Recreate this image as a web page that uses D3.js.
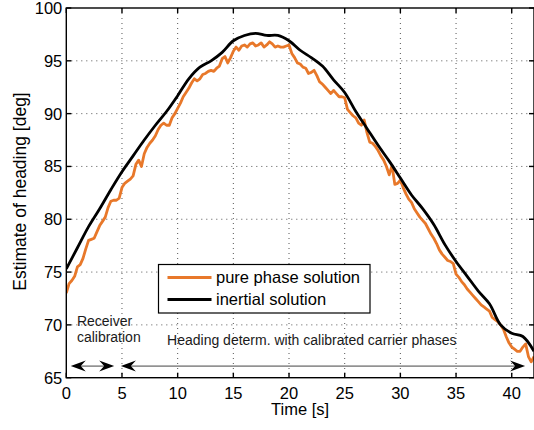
<!DOCTYPE html>
<html>
<head>
<meta charset="utf-8">
<script src="https://cdn.jsdelivr.net/npm/d3@7"></script>
<style>
  body { margin: 0; background: #fff; }
  svg { display: block; font-family: "Liberation Sans", Arial, Helvetica, sans-serif; }
</style>
</head>
<body>
<svg id="chart" width="534" height="430"></svg>
<script>
// ---- data ----
const xTicks = [0, 5, 10, 15, 20, 25, 30, 35, 40];
const yTicks = [65, 70, 75, 80, 85, 90, 95, 100];

// inertial solution, one sample per second from t = 0
const inertialStep = 1;
const inertial = [
    75.3, 77.3, 79.3, 81.0, 82.8, 84.5, 86.0, 87.5, 88.9, 90.2,
    91.7, 93.3, 94.4, 95.0, 95.8, 96.9, 97.4, 97.6, 97.4, 97.4,
    96.9, 96.0, 95.3, 94.5, 93.2, 92.0, 90.2, 88.6, 87.0, 85.5,
    83.9, 82.3, 81.0, 79.5, 77.6, 76.0, 74.6, 73.2, 72.0, 70.0,
    69.2, 68.9, 67.5
];

// pure phase solution, one sample every 0.25 s from t = 0
const phaseStep = 0.25;
const purePhase = [
    73.0, 73.9, 74.2, 74.6, 75.5, 75.7, 76.3, 77.2, 78.0, 78.1,
    78.2, 78.8, 79.4, 79.8, 80.2, 81.1, 81.7, 81.8, 81.8, 82.0,
    83.0, 83.4, 83.6, 83.8, 84.1, 85.2, 85.6, 85.0, 86.2, 86.8,
    87.2, 87.5, 87.9, 88.5, 88.9, 89.1, 88.9, 88.9, 89.6, 90.0,
    90.5, 91.0, 91.6, 92.0, 92.4, 92.9, 93.3, 93.1, 93.3, 93.7,
    93.8, 94.0, 94.1, 94.0, 94.3, 94.5, 95.2, 95.4, 94.8, 95.3,
    95.9, 96.3, 96.0, 96.4, 96.5, 96.3, 96.6, 96.7, 96.4, 96.5,
    96.7, 96.3, 96.5, 96.8, 96.6, 96.3, 96.4, 96.3, 96.3, 96.4,
    96.5, 95.7, 95.3, 94.8, 94.7, 94.4, 94.3, 93.8, 93.9, 94.1,
    93.6, 93.0, 92.8, 92.5, 92.2, 91.9, 92.2, 91.9, 91.6, 91.6,
    91.5, 90.4, 90.1, 89.8, 89.6, 89.1, 88.9, 89.4, 88.2, 87.3,
    87.2, 86.9, 86.5, 86.0, 85.6, 85.0, 84.2, 85.1, 83.3, 83.4,
    83.7, 83.0, 82.4, 81.9, 81.6, 81.0, 80.6, 80.2, 79.9, 79.6,
    79.1, 78.6, 78.2, 77.7, 77.1, 76.7, 76.4, 76.1, 76.0, 75.8,
    74.8, 74.5, 74.1, 73.8, 73.4, 73.1, 72.8, 72.5, 72.2, 71.9,
    71.7, 71.5, 71.3, 70.7, 70.5, 70.3, 70.0, 69.6, 68.9, 68.3,
    67.9, 67.7, 67.5, 67.5, 67.9, 68.2, 67.0, 66.5, 67.0
];

const seriesNames = ["pure phase solution", "inertial solution"];
const seriesColors = ["#e8782a", "#000000"];

// phase annotations: [start, end] in seconds, drawn as arrows
const phaseSpans = [[0.4, 4.3], [4.9, 41.2]];
const phaseLabels = [["Receiver", "calibration"], ["Heading determ. with calibrated carrier phases"]];

// ---- layout ----
const width = 534;
const height = 430;
const plot = { left: 66.3, right: 534, top: 8, bottom: 377.7 };

const svg = d3.select('#chart');

const x = d3.scaleLinear().domain([0, 42]).range([plot.left, plot.right]);
const y = d3.scaleLinear().domain([65, 100]).range([plot.bottom, plot.top]);

svg.append('defs').append('clipPath')
    .attr('id', 'plot-clip')
    .append('rect')
    .attr('x', plot.left)
    .attr('y', plot.top)
    .attr('width', plot.right - plot.left)
    .attr('height', plot.bottom - plot.top);

// dotted grid
const grid = svg.append('g')
    .attr('stroke', '#555')
    .attr('stroke-width', 1)
    .attr('stroke-dasharray', '1,4');

grid.selectAll('.vgrid')
    .data(xTicks.filter((d) => d > 0))
    .enter()
    .append('line')
    .attr('x1', (d) => x(d))
    .attr('x2', (d) => x(d))
    .attr('y1', plot.top)
    .attr('y2', plot.bottom);

grid.selectAll('.hgrid')
    .data(yTicks.filter((d) => d > 65 && d < 100))
    .enter()
    .append('line')
    .attr('x1', plot.left)
    .attr('x2', plot.right)
    .attr('y1', (d) => y(d))
    .attr('y2', (d) => y(d));

// curves
const phasePoints = purePhase.map((v, i) => [i * phaseStep, v]);
const inertialPoints = inertial.map((v, i) => [i * inertialStep, v]);

const lines = svg.append('g').attr('clip-path', 'url(#plot-clip)');

lines.append('path')
    .datum(phasePoints)
    .attr('fill', 'none')
    .attr('stroke', seriesColors[0])
    .attr('stroke-width', 2.8)
    .attr('stroke-linejoin', 'round')
    .attr('d', d3.line().x((d) => x(d[0])).y((d) => y(d[1])));

lines.append('path')
    .datum(inertialPoints)
    .attr('fill', 'none')
    .attr('stroke', seriesColors[1])
    .attr('stroke-width', 2.8)
    .attr('stroke-linejoin', 'round')
    .attr('d', d3.line().curve(d3.curveCatmullRom).x((d) => x(d[0])).y((d) => y(d[1])));

// axes: box frame with inward ticks
const tickLen = 5;
const axisG = svg.append('g')
    .attr('stroke', '#000')
    .attr('stroke-width', 1.4);

axisG.append('rect')
    .attr('x', plot.left)
    .attr('y', plot.top)
    .attr('width', plot.right - plot.left)
    .attr('height', plot.bottom - plot.top)
    .attr('fill', 'none');

xTicks.forEach((t) => {
    axisG.append('line').attr('x1', x(t)).attr('x2', x(t))
        .attr('y1', plot.bottom).attr('y2', plot.bottom - tickLen);
    axisG.append('line').attr('x1', x(t)).attr('x2', x(t))
        .attr('y1', plot.top).attr('y2', plot.top + tickLen);
});
yTicks.forEach((v) => {
    axisG.append('line').attr('x1', plot.left).attr('x2', plot.left + tickLen)
        .attr('y1', y(v)).attr('y2', y(v));
    axisG.append('line').attr('x1', plot.right - tickLen).attr('x2', plot.right)
        .attr('y1', y(v)).attr('y2', y(v));
});

const labels = svg.append('g')
    .attr('font-size', '16.5px')
    .attr('fill', '#000');

labels.selectAll('.xtick')
    .data(xTicks)
    .enter()
    .append('text')
    .attr('x', (d) => x(d))
    .attr('y', plot.bottom + 21)
    .attr('text-anchor', 'middle')
    .text((d) => d);

labels.selectAll('.ytick')
    .data(yTicks)
    .enter()
    .append('text')
    .attr('x', plot.left - 4)
    .attr('y', (d) => y(d))
    .attr('dy', '0.36em')
    .attr('text-anchor', 'end')
    .text((d) => d);

labels.append('text')
    .attr('x', (plot.left + plot.right) / 2)
    .attr('y', 415)
    .attr('text-anchor', 'middle')
    .text('Time [s]');

labels.append('text')
    .attr('transform', 'translate(26,191.5) rotate(-90)')
    .attr('text-anchor', 'middle')
    .attr('font-size', '17.5px')
    .text('Estimate of heading [deg]');

// legend
const legend = svg.append('g').attr('transform', 'translate(158.5,264.5)');
legend.append('rect')
    .attr('width', 211.5)
    .attr('height', 48.5)
    .attr('fill', '#fff')
    .attr('stroke', '#000')
    .attr('stroke-width', 1.2);

const legendRow = legend.selectAll('.row')
    .data(seriesNames)
    .enter()
    .append('g')
    .attr('transform', (d, i) => `translate(0,${13 + i * 22})`);

legendRow.append('line')
    .attr('x1', 9)
    .attr('x2', 53)
    .attr('stroke', (d, i) => seriesColors[i])
    .attr('stroke-width', 3);

legendRow.append('text')
    .attr('x', 57.5)
    .attr('dy', '0.36em')
    .attr('font-size', '16.5px')
    .text((d) => d);

// phase annotations
const arrowY = y(66.1);
const annot = svg.append('g');

const headPath = 'M0,0 L-15,-5.5 L-10,0 L-15,5.5 Z';

phaseSpans.forEach((span) => {
    const x0 = x(span[0]);
    const x1 = x(span[1]);
    annot.append('line')
        .attr('x1', x0 + 8)
        .attr('x2', x1 - 8)
        .attr('y1', arrowY)
        .attr('y2', arrowY)
        .attr('stroke', '#444')
        .attr('stroke-width', 1);
    annot.append('path')
        .attr('d', headPath)
        .attr('transform', `translate(${x1},${arrowY})`)
        .attr('fill', '#000');
    annot.append('path')
        .attr('d', headPath)
        .attr('transform', `translate(${x0},${arrowY}) rotate(180)`)
        .attr('fill', '#000');
});

const annotText = annot.append('g')
    .attr('font-size', '14px')
    .attr('fill', '#1a1a1a');

annotText.append('text')
    .attr('x', x(0.95))
    .attr('y', 325.5)
    .text(phaseLabels[0][0]);
annotText.append('text')
    .attr('x', x(0.95))
    .attr('y', 341.5)
    .text(phaseLabels[0][1]);
annotText.append('text')
    .attr('x', x(9.05))
    .attr('y', 344.5)
    .text(phaseLabels[1][0]);
</script>
</body>
</html>
